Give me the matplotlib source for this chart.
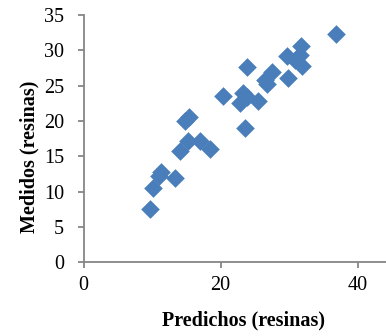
import matplotlib
matplotlib.use("Agg")
import matplotlib.pyplot as plt

predichos = [9.7, 10.2, 11.0, 11.3, 13.4, 14.1, 15.3, 14.8, 15.4, 17.0, 18.5,
             20.3, 23.6, 23.8, 22.8, 23.3, 23.8, 25.5, 26.8, 27.5, 26.5, 29.9,
             29.7, 31.7, 31.6, 31.9, 30.9, 36.9]
medidos = [7.5, 10.5, 12.2, 12.8, 12.0, 15.7, 17.1, 20.0, 20.6, 17.1, 16.1,
           23.5, 19.0, 27.6, 22.5, 23.9, 23.4, 22.8, 25.3, 26.9, 25.8, 26.1,
           29.2, 30.6, 29.4, 27.8, 28.7, 32.3]

xticks = [0, 20, 40]
yticks = [0, 5, 10, 15, 20, 25, 30, 35]

plt.rcParams['font.family'] = ['Liberation Serif', 'DejaVu Serif']

fig = plt.figure(figsize=(3.86, 3.36), dpi=100)
W, H = 386, 336
x0, x1, ytop, ybot = 83.5, 386, 15, 262.3
ax = fig.add_axes([x0 / W, (H - ybot) / H, (x1 - x0) / W, (ybot - ytop) / H])

ax.scatter(predichos, medidos, marker='D', s=9.5**2, color='#4A7EBB',
           edgecolors='#4A7EBB', linewidths=0, zorder=3, clip_on=False)

ax.set_xlim(0, (x1 - x0) / 6.85)
ax.set_ylim(0, 35)
ax.set_xticks(xticks)
ax.set_yticks(yticks)

for s in ['top', 'right']:
    ax.spines[s].set_visible(False)
for s in ['left', 'bottom']:
    ax.spines[s].set_color('#868686')
    ax.spines[s].set_linewidth(1.3)

ax.tick_params(axis='both', direction='out', length=4, width=1.3,
               color='#868686', labelsize=14.5, labelcolor='black')
ax.tick_params(axis='y', pad=10)
ax.tick_params(axis='x', pad=6)

ax.set_xlabel('Predichos (resinas)', fontsize=14.5, fontweight='bold')
ax.set_ylabel('Medidos (resinas)', fontsize=14.5, fontweight='bold')
ax.xaxis.set_label_coords((243 - x0) / (x1 - x0), (ybot - 320) / (ybot - ytop))
ax.yaxis.set_label_coords((29 - x0) / (x1 - x0), (ybot - 157) / (ybot - ytop))
ax.xaxis.label.set_va('center')
ax.yaxis.label.set_va('center')

fig.savefig('out.png', dpi=100)
